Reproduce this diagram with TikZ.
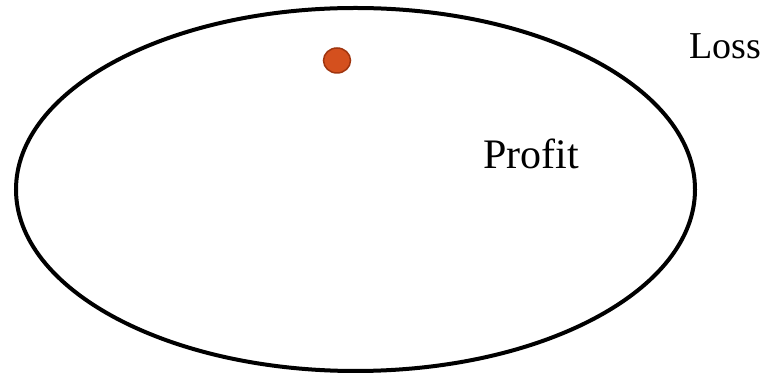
\documentclass[tikz,border=0pt]{standalone}
\usepackage{fontspec}
\setmainfont{Liberation Serif}
\begin{document}
\begin{tikzpicture}[x=1pt,y=1pt,
  lbl/.style={anchor=base west,inner sep=0pt},
  region/.style={draw=black,line width=4pt},
  dotstyle/.style={draw=dotedge,fill=dotfill,line width=1.5pt}]
\definecolor{dotfill}{HTML}{D4501E}
\definecolor{dotedge}{HTML}{A0350F}
\useasboundingbox (0,0) rectangle (765,374);
\fill[white] (0,0) rectangle (765,374);
\draw[region] (355.5,184.5) ellipse [x radius=339.5, y radius=181.5];
\draw[dotstyle] (337,313.5) ellipse [x radius=13.5, y radius=12.5];
\node[lbl,font=\fontsize{38}{42}\selectfont] (loss) at (689,315) {Loss};
\node[lbl,font=\fontsize{42}{46}\selectfont] (profit) at (483,205) {Profit};
\end{tikzpicture}
\end{document}
